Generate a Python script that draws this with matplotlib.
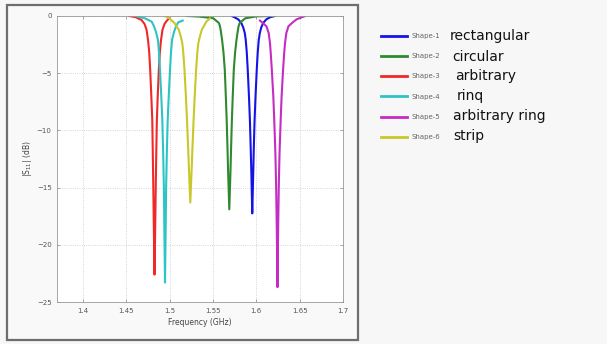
import numpy as np
import matplotlib
matplotlib.use("Agg")
import matplotlib.pyplot as plt
from matplotlib.patches import Rectangle

# values (frequency in GHz, |S11| in dB)
f1 = [1.5715, 1.5745, 1.5792, 1.5826, 1.5849, 1.5867, 1.5878, 1.5890, 1.5901, 1.5915, 1.5926, 1.5935, 1.5942, 1.5953,
      1.5965, 1.5971, 1.5980, 1.5991, 1.6005, 1.6016, 1.6028, 1.6040, 1.6057, 1.6080, 1.6115, 1.6161, 1.6215]
s1 = [0.0, -0.1, -0.3, -0.6, -1.0, -1.5, -2.1, -3.2, -4.7, -7.0, -9.1, -11.5, -13.5, -17.25,
      -13.5, -11.5, -9.1, -7.0, -4.7, -3.2, -2.1, -1.5, -1.0, -0.6, -0.3, -0.1, 0.0]

f2 = [1.5197, 1.5342, 1.5503, 1.5567, 1.5581, 1.5592, 1.5605, 1.5621, 1.5636, 1.5648, 1.5658, 1.5667, 1.5674, 1.5688,
      1.5702, 1.5709, 1.5718, 1.5728, 1.5740, 1.5755, 1.5771, 1.5784, 1.5795, 1.5809, 1.5873, 1.6004, 1.6215]
s2 = [0.0, -0.05, -0.2, -0.6, -0.9, -1.4, -2.1, -3.2, -4.7, -7.0, -9.1, -11.5, -13.5, -16.9,
      -13.5, -11.5, -9.1, -7.0, -4.7, -3.2, -2.1, -1.4, -0.9, -0.6, -0.2, -0.03, 0.0]

f3 = [1.4531, 1.4606, 1.4675, 1.4710, 1.4733, 1.4750, 1.4764, 1.4775, 1.4788, 1.4799, 1.4805, 1.4811, 1.4818, 1.4825,
      1.4832, 1.4839, 1.4845, 1.4852, 1.4862, 1.4875, 1.4886, 1.4900, 1.4917, 1.4940, 1.4963, 1.4992]
s3 = [0.0, -0.1, -0.35, -0.7, -1.2, -2.1, -3.2, -4.7, -7.0, -9.1, -12.0, -15.0, -19.0, -22.6,
      -19.0, -15.0, -12.0, -9.1, -7.0, -4.7, -3.2, -2.1, -1.2, -0.7, -0.45, -0.2]

f4 = [1.4600, 1.4715, 1.4793, 1.4819, 1.4842, 1.4865, 1.4877, 1.4888, 1.4903, 1.4915, 1.4925, 1.4933, 1.4939, 1.4946,
      1.4953, 1.4959, 1.4967, 1.4977, 1.4989, 1.5004, 1.5015, 1.5027, 1.5050, 1.5073, 1.5099, 1.5150]
s4 = [0.0, -0.2, -0.5, -0.9, -1.4, -2.1, -3.2, -4.7, -7.0, -9.1, -12.0, -15.0, -19.0, -23.3,
      -19.0, -15.0, -12.0, -9.1, -7.0, -4.7, -3.2, -2.1, -1.4, -0.9, -0.55, -0.4]

f5 = [1.6042, 1.6117, 1.6143, 1.6158, 1.6166, 1.6179, 1.6196, 1.6207, 1.6220, 1.6229, 1.6237, 1.6244,
      1.6251, 1.6259, 1.6268, 1.6281, 1.6292, 1.6309, 1.6322, 1.6331, 1.6346, 1.6371, 1.6414, 1.6463, 1.6529, 1.6567]
s5 = [-0.4, -0.9, -1.5, -2.4, -3.2, -4.7, -7.0, -9.1, -12.0, -15.0, -19.0, -23.7,
      -19.0, -15.0, -12.0, -9.1, -7.0, -4.7, -3.2, -2.4, -1.5, -0.9, -0.6, -0.3, -0.1, 0.0]

f6 = [1.4946, 1.4996, 1.5053, 1.5105, 1.5128, 1.5146, 1.5157, 1.5171, 1.5187, 1.5200, 1.5213, 1.5223, 1.5238,
      1.5253, 1.5263, 1.5276, 1.5289, 1.5305, 1.5319, 1.5330, 1.5348, 1.5371, 1.5423, 1.5465]
s6 = [0.0, -0.2, -0.6, -1.2, -1.8, -2.4, -3.2, -4.7, -7.0, -9.1, -11.5, -13.5, -16.3,
      -13.5, -11.5, -9.1, -7.0, -4.7, -3.2, -2.4, -1.8, -1.2, -0.5, -0.2]

labels = ['Shape-1', 'Shape-2', 'Shape-3', 'Shape-4', 'Shape-5', 'Shape-6']
names = ['rectangular', 'circular', 'arbitrary', 'rinq', 'arbitrary ring', 'strip']
colors = ['#1414e6', '#2f8a2f', '#f02828', '#2cc4c4', '#c42cc4', '#c8c828']
xticks = [1.4, 1.45, 1.5, 1.55, 1.6, 1.65, 1.7]
yticks = [0, -5, -10, -15, -20, -25]

freqs = [f1, f2, f3, f4, f5, f6]
s11 = [s1, s2, s3, s4, s5, s6]

fig = plt.figure(figsize=(6.07, 3.44), dpi=100)
fig.patch.set_facecolor('#f7f7f7')

# outer frame around the matlab figure
fig.add_artist(Rectangle((0.0115, 0.0116), 0.578, 0.974, transform=fig.transFigure,
                         facecolor='#f9f9f9', edgecolor='#6e6e6e', lw=1.6, zorder=0))

ax = fig.add_axes([0.094, 0.122, 0.471, 0.8315])
ax.set_facecolor('white')

lines = []
for f, s, c, lab in zip(freqs, s11, colors, labels):
    ln, = ax.plot(f, s, color=c, lw=1.5, label=lab, solid_joinstyle='round')
    lines.append(ln)

ax.set_xlim(1.37, 1.7)
ax.set_ylim(-25, 0)
ax.set_xticks(xticks)
ax.set_xticklabels([str(t) for t in xticks])
ax.set_yticks(yticks)
ax.grid(True, ls=':', color='#c8c8c8', lw=0.6)
ax.tick_params(direction='in', top=True, right=True, length=2, width=0.5,
               labelsize=5, labelcolor='#555555', color='#888888', pad=4)
for sp in ax.spines.values():
    sp.set_color('#999999')
    sp.set_linewidth(0.6)
ax.set_xlabel('Frequency (GHz)', fontsize=5.5, color='#444444', labelpad=3)
ax.set_ylabel('|S$_{11}$| (dB)', fontsize=5.5, color='#444444', labelpad=2)

leg = fig.legend(handles=lines, loc='upper left', bbox_to_anchor=(0.628, 0.904),
                 frameon=False, fontsize=5, handlelength=3.75, handletextpad=0.6,
                 labelspacing=2.05, borderaxespad=0, borderpad=0)
for t in leg.get_texts():
    t.set_color('#666666')
for h in leg.legend_handles:
    h.set_linewidth(2)

name_x = [450, 452, 455, 457, 453, 453]
name_y = [36, 57, 76, 96, 116, 136]
for nx, ny, nm in zip(name_x, name_y, names):
    fig.text(nx / 607, 1 - ny / 344, nm, fontsize=10, color='#111111',
             va='center', ha='left', family='DejaVu Sans')

fig.savefig('out.png', dpi=100, facecolor=fig.get_facecolor())
